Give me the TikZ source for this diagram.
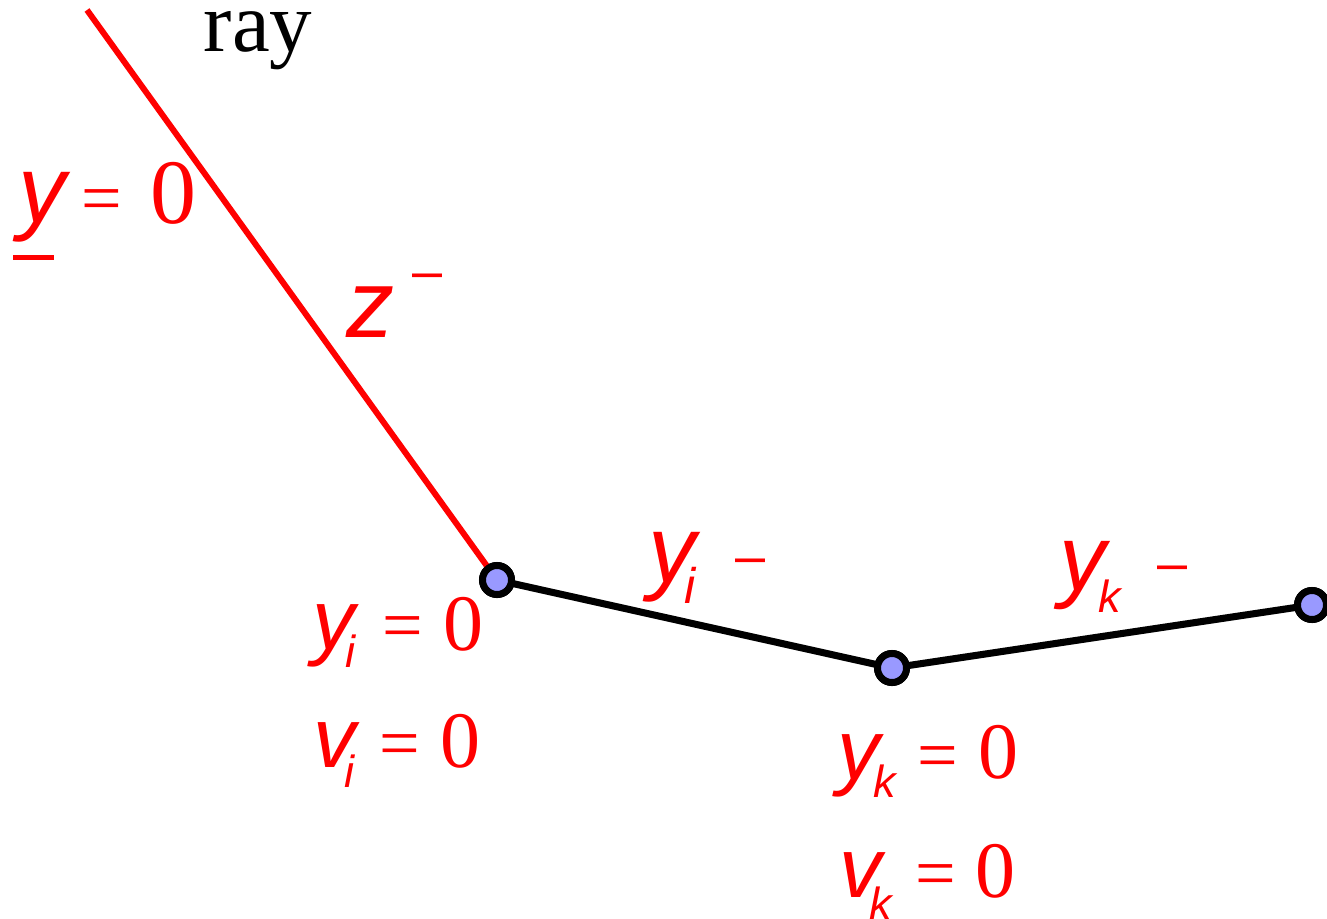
\documentclass[tikz,border=0pt]{standalone}
\usepackage{fontspec}
\setmainfont{Liberation Serif}
\newfontfamily\sv{Liberation Sans}
\definecolor{nodefill}{RGB}{153,153,255}
\tikzset{
  var/.style={inner sep=0pt, anchor=base, text=red, font={\sv\itshape\fontsize{#1pt}{#1pt}\selectfont}},
  num/.style={inner sep=0pt, anchor=base, text=red, font={\fontsize{#1pt}{#1pt}\selectfont}},
  dsh/.style={inner sep=0pt, anchor=base, text=red, font={\sv\fontsize{#1pt}{#1pt}\selectfont}},
  vertex/.style={circle, draw=black, line width=7pt, fill=nodefill, minimum size=29pt, inner sep=0pt},
  edge/.style={black, line width=7pt},
  redray/.style={red, line width=6pt},
  shadowline/.style={black!12, line width=7pt, line cap=round}
}
\begin{document}
\begin{tikzpicture}[x=1pt,y=-1pt]
\useasboundingbox (0,0) rectangle (1327,918);
\coordinate (top) at (87,10);
\node[vertex] (ni) at (497,580) {};
\node[vertex] (nk) at (892,668) {};
\node[vertex] (nr) at (1312,605) {};
% shadows
\begin{scope}[shift={(1,5)}]
\draw[shadowline] (ni.center) -- (nk.center) -- (nr.center);
\end{scope}
% lines
\draw[redray] (top) -- (ni.center);
\draw[edge] (ni.center) -- (nk.center) -- (nr.center);
% vertices on top
\node[vertex] at (ni) {};
\node[vertex] at (nk) {};
\node[vertex] at (nr) {};
% ray
\node[num=85, text=black] (ray) at (258,51) {ray};
% y = 0 (top left)
\node[var=95] (ybar) at (42,222) {y};
\draw[red, line width=5pt] (13,257.5) -- (54,257.5);
\node[num=72] (ybareq) at (102,222) {=};
\node[num=92] (ybarzero) at (173,223) {0};
% z-
\node[var=96] (z) at (370,337) {z};
\node[dsh=54] (zminus) at (428,289) {–};
% y_i -
\node[var=95] (yi) at (672,582) {y};
\node[var=50] (yisub) at (690,603) {i};
\node[dsh=54] (yiminus) at (751,574) {–};
% y_k -
\node[var=93] (yk) at (1083,590) {y};
\node[var=45] (yksub) at (1110,612) {k};
\node[dsh=54] (ykminus) at (1172,581) {–};
% y_i = 0
\node[var=85] (yi0) at (334,649) {y};
\node[var=45] (yi0sub) at (350,667) {i};
\node[num=72] (yi0eq) at (403,649) {=};
\node[num=80] (yi0zero) at (463,650) {0};
% v_i = 0
\node[var=85] (vi0) at (335,767) {v};
\node[var=45] (vi0sub) at (349,787) {i};
\node[num=72] (vi0eq) at (400,767) {=};
\node[num=80] (vi0zero) at (460,767) {0};
% y_k = 0
\node[var=85] (yk0) at (859,779) {y};
\node[var=45] (yk0sub) at (885,797) {k};
\node[num=72] (yk0eq) at (938,779) {=};
\node[num=80] (yk0zero) at (998,778) {0};
% v_k = 0
\node[var=85] (vk0) at (861,897) {v};
\node[var=45] (vk0sub) at (881,919) {k};
\node[num=72] (vk0eq) at (936,897) {=};
\node[num=80] (vk0zero) at (995,897) {0};
\end{tikzpicture}
\end{document}
